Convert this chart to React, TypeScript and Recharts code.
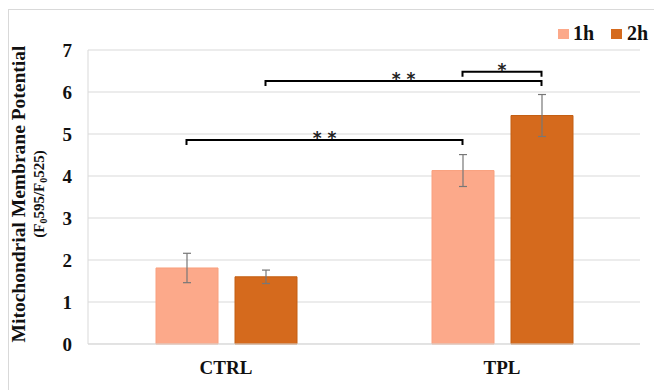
import { BarChart, Bar, XAxis, YAxis, CartesianGrid, ErrorBar, usePlotArea } from 'recharts';

const categories = ['CTRL', 'TPL'];
const oneHour = [1.81, 4.13];
const twoHour = [1.6, 5.44];
const oneHourErr = [0.35, 0.38];
const twoHourErr = [0.16, 0.5];
const yTicks = [0, 1, 2, 3, 4, 5, 6, 7];

// brackets: [category index, series index] -> [category index, series index]
const brackets = [
  { from: [0, 0], to: [1, 0], level: 4.86, label: '* *' },
  { from: [0, 1], to: [1, 1], level: 6.26, label: '* *' },
  { from: [1, 0], to: [1, 1], level: 6.48, label: '*' },
];

const seriesNames = ['1h', '2h'];
const colors = ['#FCA98A', '#D56A1D'];
const strokes = ['#F9A07E', '#C45E12'];

const data = categories.map((c, i) => ({
  name: c,
  h1: oneHour[i],
  h2: twoHour[i],
  e1: oneHourErr[i],
  e2: twoHourErr[i],
}));

const YMAX = 7;
const BAR_SIZE = 62;
const BAR_GAP = 17;
const serif = '"Liberation Serif", "Times New Roman", serif';

function Overlay() {
  const plot = usePlotArea();
  if (!plot) return null;
  const band = plot.width / categories.length;
  const cx = (cat: number, s: number) =>
    plot.x + band * cat + band / 2 + (s === 0 ? -1 : 1) * (BAR_GAP / 2 + BAR_SIZE / 2);
  const cy = (v: number) => plot.y + plot.height * (1 - v / YMAX);
  const midY = 194;
  return (
    <g>
      {brackets.map((b, i) => {
        const x1 = cx(b.from[0], b.from[1]);
        const x2 = cx(b.to[0], b.to[1]);
        const y = cy(b.level);
        return (
          <g key={i}>
            <path
              d={`M${x1},${y + 5} L${x1},${y} L${x2},${y} L${x2},${y + 5}`}
              fill="none"
              stroke="#000"
              strokeWidth={2}
            />
            <text
              x={(x1 + x2) / 2}
              y={y + 4}
              textAnchor="middle"
              fontSize={17}
              fontWeight="bold"
              fontFamily="DejaVu Sans"
              fill="#222"
            >
              {b.label}
            </text>
          </g>
        );
      })}
      <text
        transform={`translate(25, ${midY}) rotate(-90)`}
        textAnchor="middle"
        fontSize={19.5}
        fontWeight="bold"
        fontFamily={serif}
        fill="#111"
      >
        Mitochondrial Membrane Potential
      </text>
      <text
        transform={`translate(44, ${midY}) rotate(-90)`}
        textAnchor="middle"
        fontSize={15}
        fontWeight="bold"
        fontFamily={serif}
        fill="#111"
      >
        (F<tspan fontSize={10} dy={3}>0</tspan>
        <tspan dy={-3}>595/F</tspan>
        <tspan fontSize={10} dy={3}>0</tspan>
        <tspan dy={-3}>525)</tspan>
      </text>
      {seriesNames.map((n, i) => (
        <g key={n}>
          <rect x={558 + i * 53} y={29} width={11} height={10} fill={colors[i]} />
          <text x={573 + i * 54} y={40} fontSize={20} fontWeight="bold" fontFamily={serif} fill="#111">
            {n}
          </text>
        </g>
      ))}
    </g>
  );
}

export default function App() {
  return (
    <div style={{ position: 'absolute', left: 0, top: 0, width: 654, height: 390, background: '#fff' }}>
      <div
        style={{
          position: 'absolute',
          left: 8,
          top: 9,
          width: 660,
          height: 400,
          borderLeft: '1px solid #d9d9d9',
          borderTop: '1px solid #d9d9d9',
        }}
      />
      <BarChart
        width={654}
        height={390}
        data={data}
        margin={{ top: 50, right: 14, bottom: 16, left: 8 }}
        barSize={BAR_SIZE}
        barGap={BAR_GAP}
        style={{ position: 'absolute', left: 0, top: 0 }}
      >
        <CartesianGrid vertical={false} stroke="#d9d9d9" strokeWidth={1} />
        <XAxis
          dataKey="name"
          height={30}
          axisLine={{ stroke: '#d9d9d9' }}
          tickLine={false}
          tickSize={6}
          tickMargin={11}
          tick={{ fill: '#111', fontSize: 19, fontWeight: 'bold', fontFamily: serif }}
        />
        <YAxis
          width={80}
          domain={[0, YMAX]}
          ticks={yTicks}
          axisLine={{ stroke: '#d9d9d9' }}
          tickLine={false}
          tickSize={6}
          tickMargin={10}
          tick={{ fill: '#111', fontSize: 19, fontWeight: 'bold', fontFamily: serif }}
        />
        <Bar dataKey="h1" fill={colors[0]} stroke={strokes[0]} isAnimationActive={false}>
          <ErrorBar dataKey="e1" width={4} stroke="#777" strokeWidth={1.2} />
        </Bar>
        <Bar dataKey="h2" fill={colors[1]} stroke={strokes[1]} isAnimationActive={false}>
          <ErrorBar dataKey="e2" width={4} stroke="#777" strokeWidth={1.2} />
        </Bar>
        <Overlay />
      </BarChart>
    </div>
  );
}
